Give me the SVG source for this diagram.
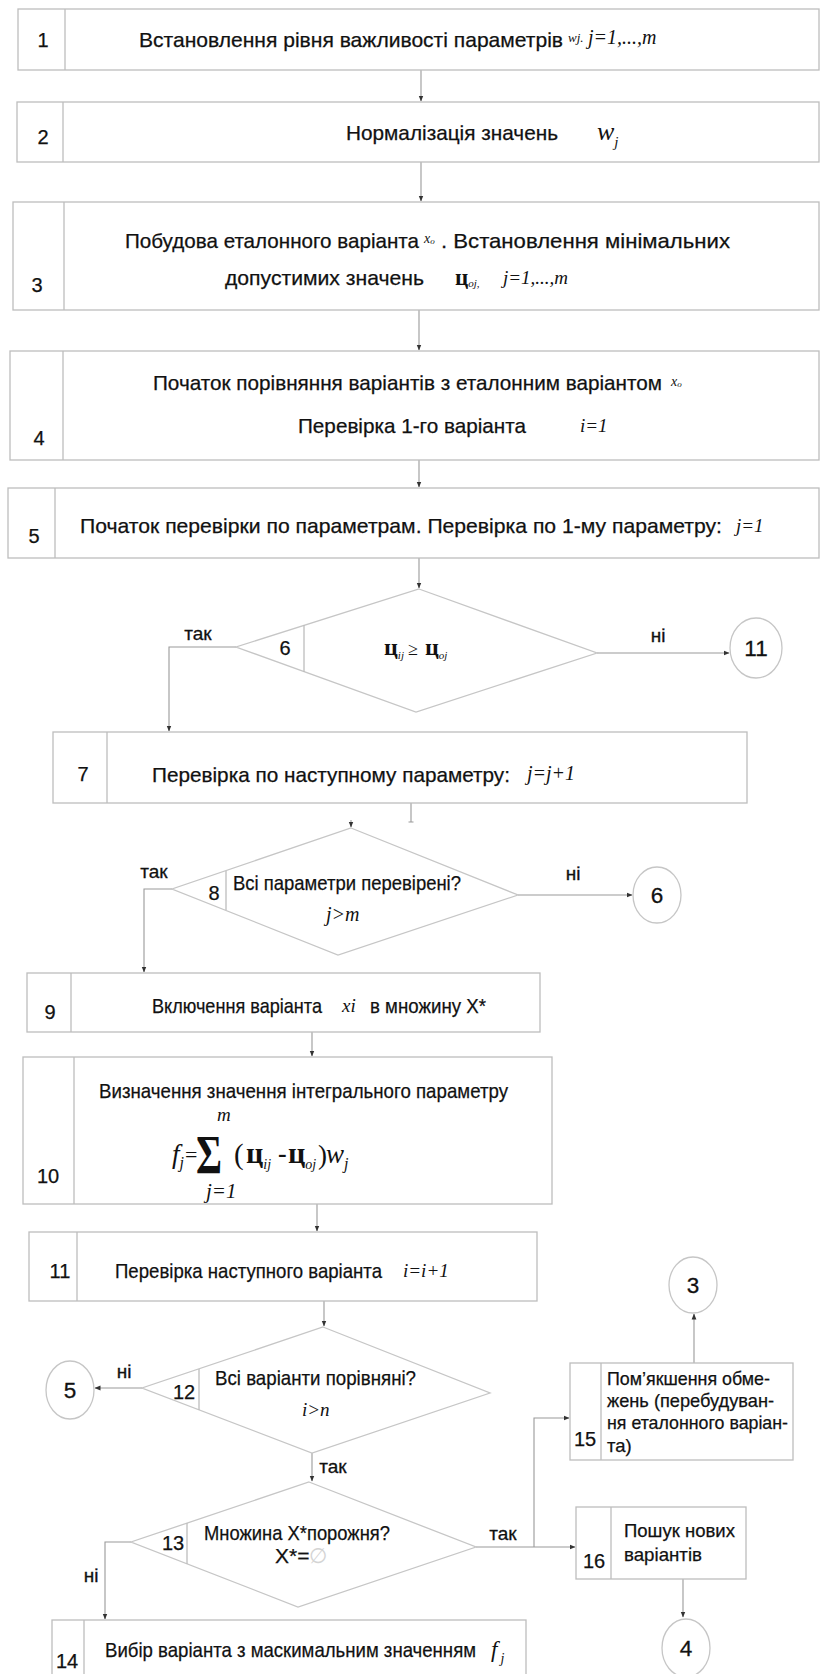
<svg xmlns="http://www.w3.org/2000/svg" width="821" height="1674" viewBox="0 0 821 1674">
<defs>
<marker id="arr" markerWidth="7" markerHeight="7" refX="5.5" refY="3" orient="auto" markerUnits="userSpaceOnUse">
<path d="M0,0.6 L6,3 L0,5.4 z" fill="#333"/>
</marker>
<style>
.box{fill:#fff;stroke:#bdbdbd;stroke-width:1.3}
.dv{stroke:#bdbdbd;stroke-width:1.3}
.dia{fill:#fff;stroke:#c6c6c6;stroke-width:1.3}
.circ{fill:#fff;stroke:#c6c6c6;stroke-width:1.3}
.conn{fill:none;stroke:#9a9a9a;stroke-width:1.1}
.t{font-family:"Liberation Sans",Arial,sans-serif;font-size:21px;fill:#111;stroke:#111;stroke-width:0.25}
.s{font-family:"Liberation Sans",Arial,sans-serif;font-size:18.5px;fill:#111;stroke:#111;stroke-width:0.25}
.num{font-family:"Liberation Sans",Arial,sans-serif;font-size:20px;fill:#111;stroke:#111;stroke-width:0.25;text-anchor:middle}
.cn{font-family:"Liberation Sans",Arial,sans-serif;font-size:22.5px;fill:#111;stroke:#111;stroke-width:0.3;text-anchor:middle}
.lbl{font-family:"Liberation Sans",Arial,sans-serif;font-size:19px;fill:#111;stroke:#111;stroke-width:0.3;text-anchor:middle}
.m{font-family:"Liberation Serif","Times New Roman",serif;font-style:italic;font-weight:normal;fill:#111}
.u{font-family:"Liberation Serif","Times New Roman",serif;font-weight:bold;font-style:normal;fill:#111}
.r{font-family:"Liberation Serif","Times New Roman",serif;font-style:normal;font-weight:normal;fill:#111}
</style>
</defs>
<rect width="821" height="1674" fill="#fff"/>

<!-- connectors -->
<g id="connectors">
<path class="conn" d="M421,70 V101" marker-end="url(#arr)"/>
<path class="conn" d="M421,162 V201" marker-end="url(#arr)"/>
<path class="conn" d="M419,310 V350" marker-end="url(#arr)"/>
<path class="conn" d="M419,460 V487" marker-end="url(#arr)"/>
<path class="conn" d="M419,558 V588" marker-end="url(#arr)"/>
<path class="conn" d="M236,647 H169 V731" marker-end="url(#arr)"/>
<path class="conn" d="M597,653 H729" marker-end="url(#arr)"/>
<path class="conn" d="M411,803 V822 M408.5,822 H413.5"/>
<path class="conn" d="M351,820 V827" marker-end="url(#arr)"/>
<path class="conn" d="M172,889 H144 V972" marker-end="url(#arr)"/>
<path class="conn" d="M518,895 H632" marker-end="url(#arr)"/>
<path class="conn" d="M312,1032 V1056" marker-end="url(#arr)"/>
<path class="conn" d="M317,1204 V1231" marker-end="url(#arr)"/>
<path class="conn" d="M324,1301 V1326" marker-end="url(#arr)"/>
<path class="conn" d="M142,1388 H95" marker-end="url(#arr)"/>
<path class="conn" d="M312,1453 V1481" marker-end="url(#arr)"/>
<path class="conn" d="M476,1547 H575" marker-end="url(#arr)"/>
<path class="conn" d="M534,1547 V1418 H569" marker-end="url(#arr)"/>
<path class="conn" d="M131,1542 H105 V1619" marker-end="url(#arr)"/>
<path class="conn" d="M694,1363 V1314" marker-end="url(#arr)"/>
<path class="conn" d="M683,1579 V1617" marker-end="url(#arr)"/>
</g>

<!-- 1 -->
<g id="n1">
<rect class="box" x="18" y="9" width="801" height="61"/>
<line class="dv" x1="65" y1="9" x2="65" y2="70"/>
<text class="num" x="43" y="47">1</text>
<text class="t" x="139" y="47" textLength="424" lengthAdjust="spacingAndGlyphs">Встановлення рівня важливості параметрів</text>
<text class="m" x="568" y="42" font-size="13">wj.<tspan x="588" y="44" font-size="20">j=1,...,m</tspan></text>
</g>

<!-- 2 -->
<g id="n2">
<rect class="box" x="17" y="102" width="802" height="60"/>
<line class="dv" x1="63" y1="102" x2="63" y2="162"/>
<text class="num" x="43" y="144">2</text>
<text class="t" x="346" y="140" textLength="212" lengthAdjust="spacingAndGlyphs">Нормалізація значень</text>
<text class="m" x="597" y="140" font-size="26">w<tspan font-size="15" dy="7">j</tspan></text>
</g>

<!-- 3 -->
<g id="n3">
<rect class="box" x="13" y="202" width="806" height="108"/>
<line class="dv" x1="64" y1="202" x2="64" y2="310"/>
<text class="num" x="37" y="292">3</text>
<text class="t" x="125" y="248" textLength="294" lengthAdjust="spacingAndGlyphs">Побудова еталонного варіанта</text>
<text class="m" x="424" y="243" font-size="14">x<tspan font-size="9" dy="1">o</tspan></text>
<text class="t" x="441" y="248" textLength="289" lengthAdjust="spacingAndGlyphs">. Встановлення мінімальних</text>
<text class="t" x="225" y="285" textLength="199" lengthAdjust="spacingAndGlyphs">допустимих значень</text>
<text class="u" x="455" y="285" font-size="23">ц<tspan class="m" font-size="11" dy="2">oj,</tspan><tspan class="m" x="503" y="284" font-size="19">j=1,...,m</tspan></text>
</g>

<!-- 4 -->
<g id="n4">
<rect class="box" x="10" y="351" width="809" height="109"/>
<line class="dv" x1="63" y1="351" x2="63" y2="460"/>
<text class="num" x="39" y="445">4</text>
<text class="t" x="153" y="390" textLength="509" lengthAdjust="spacingAndGlyphs">Початок порівняння варіантів з еталонним варіантом</text>
<text class="m" x="671" y="386" font-size="14">x<tspan font-size="9" dy="1">o</tspan></text>
<text class="t" x="298" y="433" textLength="228" lengthAdjust="spacingAndGlyphs">Перевірка 1-го варіанта</text>
<text class="m" x="580" y="432" font-size="19">i=1</text>
</g>

<!-- 5 -->
<g id="n5">
<rect class="box" x="8" y="488" width="811" height="70"/>
<line class="dv" x1="55" y1="488" x2="55" y2="558"/>
<text class="num" x="34" y="543">5</text>
<text class="t" x="80" y="533" textLength="642" lengthAdjust="spacingAndGlyphs">Початок перевірки по параметрам. Перевірка по 1-му параметру:</text>
<text class="m" x="736" y="532" font-size="19">j=1</text>
</g>

<!-- 6 -->
<g id="n6">
<polygon class="dia" points="419,589 597,653 416,712 236,647"/>
<line class="dv" x1="304" y1="625" x2="304" y2="672"/>
<text class="num" x="285" y="655">6</text>
<text class="u" x="384" y="655" font-size="24">ц<tspan class="m" font-size="11" dy="4">ij</tspan><tspan class="r" x="408" y="655" font-size="18">≥</tspan><tspan x="425" y="655">ц</tspan><tspan class="m" font-size="11" dy="4">oj</tspan></text>
<text class="lbl" x="198" y="640">так</text>
<text class="lbl" x="658" y="642">ні</text>
</g>

<g id="c11">
<ellipse class="circ" cx="756" cy="648" rx="26" ry="30"/>
<text class="cn" x="756" y="656">11</text>
</g>

<!-- 7 -->
<g id="n7">
<rect class="box" x="53" y="732" width="694" height="71"/>
<line class="dv" x1="107" y1="732" x2="107" y2="803"/>
<text class="num" x="83" y="781">7</text>
<text class="t" x="152" y="782" textLength="358" lengthAdjust="spacingAndGlyphs">Перевірка по наступному параметру:</text>
<text class="m" x="527" y="780" font-size="20">j=j+1</text>
</g>

<!-- 8 -->
<g id="n8">
<polygon class="dia" points="351,828 518,895 338,955 172,889"/>
<line class="dv" x1="226" y1="871" x2="226" y2="910"/>
<text class="num" x="214" y="900">8</text>
<text class="t" x="233" y="890" textLength="228" lengthAdjust="spacingAndGlyphs">Всі параметри перевірені?</text>
<text class="m" x="326" y="921" font-size="20">j&gt;m</text>
<text class="lbl" x="154" y="878">так</text>
<text class="lbl" x="573" y="880">ні</text>
</g>

<g id="c6">
<ellipse class="circ" cx="657" cy="895" rx="24" ry="28"/>
<text class="cn" x="657" y="903">6</text>
</g>

<!-- 9 -->
<g id="n9">
<rect class="box" x="27" y="973" width="513" height="59"/>
<line class="dv" x1="71" y1="973" x2="71" y2="1032"/>
<text class="num" x="50" y="1019">9</text>
<text class="t" x="152" y="1013" font-size="19.5" textLength="170" lengthAdjust="spacingAndGlyphs">Включення варіанта</text>
<text class="m" x="342" y="1012" font-size="19">xi</text>
<text class="t" x="370" y="1013" textLength="116" lengthAdjust="spacingAndGlyphs">в множину Х*</text>
</g>

<!-- 10 -->
<g id="n10">
<rect class="box" x="23" y="1057" width="529" height="147"/>
<line class="dv" x1="74" y1="1057" x2="74" y2="1204"/>
<text class="num" x="48" y="1183">10</text>
<text class="t" x="99" y="1098" textLength="409" lengthAdjust="spacingAndGlyphs">Визначення значення інтегрального параметру</text>
<text class="m" x="217" y="1121" font-size="19">m</text>
<text class="u" x="196" y="1173" font-size="54" textLength="26" lengthAdjust="spacingAndGlyphs">Σ</text>
<text class="m" x="206" y="1198" font-size="21">j=1</text>
<text class="m" x="172" y="1163" font-size="27">f<tspan font-size="16" dy="5">j</tspan><tspan class="r" x="185" y="1162" font-size="22">=</tspan><tspan class="r" x="234" y="1164" font-size="29">(</tspan><tspan class="u" x="246" y="1163" font-size="30">ц</tspan><tspan font-size="14" dy="6">ij</tspan><tspan class="u" x="278" y="1162" font-size="26">-</tspan><tspan class="u" x="288" y="1163" font-size="30">ц</tspan><tspan font-size="14" dy="6">oj</tspan><tspan class="r" x="318" y="1164" font-size="27">)</tspan><tspan x="326" y="1163">w</tspan><tspan font-size="16" dy="6">j</tspan></text>
</g>

<!-- 11 -->
<g id="n11">
<rect class="box" x="29" y="1232" width="508" height="69"/>
<line class="dv" x1="77" y1="1232" x2="77" y2="1301"/>
<text class="num" x="60" y="1278">11</text>
<text class="t" x="115" y="1278" textLength="267" lengthAdjust="spacingAndGlyphs">Перевірка наступного варіанта</text>
<text class="m" x="403" y="1277" font-size="19">i=i+1</text>
</g>

<!-- 12 -->
<g id="n12">
<polygon class="dia" points="323,1327 490,1393 312,1453 142,1388"/>
<line class="dv" x1="199" y1="1369" x2="199" y2="1410"/>
<text class="num" x="184" y="1399">12</text>
<text class="t" x="215" y="1385" textLength="201" lengthAdjust="spacingAndGlyphs">Всі варіанти порівняні?</text>
<text class="m" x="302" y="1416" font-size="19">i&gt;n</text>
<text class="lbl" x="124" y="1378">ні</text>
<text class="lbl" x="333" y="1473">так</text>
</g>

<g id="c5">
<ellipse class="circ" cx="70" cy="1390" rx="24" ry="29"/>
<text class="cn" x="70" y="1398">5</text>
</g>

<g id="c3">
<ellipse class="circ" cx="693" cy="1285" rx="24" ry="28"/>
<text class="cn" x="693" y="1293">3</text>
</g>

<!-- 15 -->
<g id="n15">
<rect class="box" x="570" y="1363" width="223" height="97"/>
<line class="dv" x1="601" y1="1363" x2="601" y2="1460"/>
<text class="num" x="585" y="1446">15</text>
<text class="s" x="607" y="1385" textLength="163" lengthAdjust="spacingAndGlyphs">Пом’якшення обме-</text>
<text class="s" x="607" y="1407" textLength="167" lengthAdjust="spacingAndGlyphs">жень (перебудуван-</text>
<text class="s" x="607" y="1429" textLength="181" lengthAdjust="spacingAndGlyphs">ня еталонного варіан-</text>
<text class="s" x="607" y="1452">та)</text>
</g>

<!-- 13 -->
<g id="n13">
<polygon class="dia" points="309,1482 476,1547 298,1607 131,1542"/>
<line class="dv" x1="187" y1="1523" x2="187" y2="1564"/>
<text class="num" x="173" y="1550">13</text>
<text class="t" x="204" y="1540" textLength="186" lengthAdjust="spacingAndGlyphs">Множина Х*порожня?</text>
<text class="t" x="275" y="1563">Х*=<tspan fill="#d4d4d4" stroke="none">∅</tspan></text>
<text class="lbl" x="503" y="1540">так</text>
<text class="lbl" x="91" y="1582">ні</text>
</g>

<!-- 16 -->
<g id="n16">
<rect class="box" x="576" y="1507" width="170" height="72"/>
<line class="dv" x1="611" y1="1507" x2="611" y2="1579"/>
<text class="num" x="594" y="1568">16</text>
<text class="s" x="624" y="1537" textLength="111" lengthAdjust="spacingAndGlyphs">Пошук нових</text>
<text class="s" x="624" y="1561" textLength="78" lengthAdjust="spacingAndGlyphs">варіантів</text>
</g>

<g id="c4">
<ellipse class="circ" cx="686" cy="1648" rx="24" ry="29"/>
<text class="cn" x="686" y="1656">4</text>
</g>

<!-- 14 -->
<g id="n14">
<rect class="box" x="52" y="1620" width="474" height="70"/>
<line class="dv" x1="84" y1="1620" x2="84" y2="1690"/>
<text class="num" x="67" y="1668">14</text>
<text class="t" x="105" y="1657" textLength="371" lengthAdjust="spacingAndGlyphs">Вибір варіанта з маскимальним значенням</text>
<text class="m" x="491" y="1657" font-size="23">f<tspan font-size="14" dx="3" dy="6">j</tspan></text>
</g>
</svg>
